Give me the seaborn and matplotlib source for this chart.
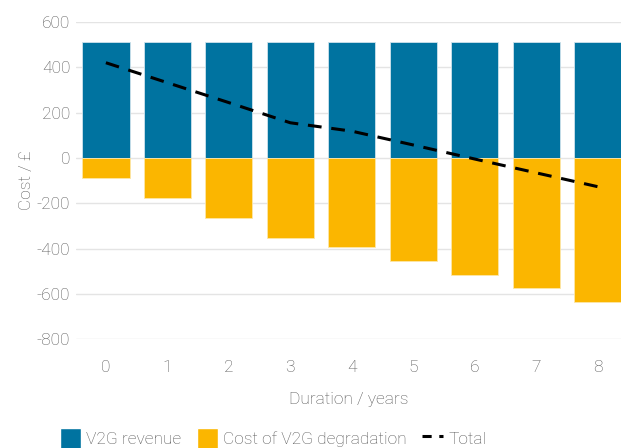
import matplotlib
matplotlib.use("Agg")
import matplotlib.pyplot as plt
import pandas as pd
import seaborn as sns
from matplotlib.patches import Patch
from matplotlib.lines import Line2D

# Data
years = [0, 1, 2, 3, 4, 5, 6, 7, 8]
revenue = [510, 510, 510, 510, 510, 510, 510, 510, 510]
degradation = [-90, -178, -266, -355, -392, -453, -515, -576, -637]
total = [420, 332, 244, 155, 118, 57, -5, -66, -127]

df = pd.DataFrame({"year": years, "revenue": revenue,
                   "degradation": degradation, "total": total})

blue = "#0073a0"
yellow = "#fbb600"
grey = "#555555"

sns.set_theme(style="white")
plt.rcParams["font.family"] = ["Roboto", "DejaVu Sans"]
plt.rcParams["font.weight"] = "light"
plt.rcParams["axes.labelweight"] = "light"
plt.rcParams["axes.unicode_minus"] = False

fig = plt.figure(figsize=(6.21, 4.48), dpi=100)
ax = fig.add_axes([0.122, 0.243, 0.878, 0.708])

sns.barplot(data=df, x="year", y="revenue", color=blue, width=0.77,
            saturation=1, edgecolor="#cfe3ec", linewidth=0.6, ax=ax, zorder=2)
sns.barplot(data=df, x="year", y="degradation", color=yellow, width=0.77,
            saturation=1, edgecolor="#fde6a8", linewidth=0.6, ax=ax, zorder=2)
sns.lineplot(data=df, x="year", y="total", color="black", linewidth=2.2,
             ax=ax, zorder=3)
ax.lines[-1].set_dashes((4.5, 3.2))

ax.set_ylim(-800, 600)
ax.set_xlim(-0.49, 8.38)
ax.set_yticks(range(-800, 601, 200))
ax.yaxis.grid(True, color="#e4e4e4", linewidth=1)
ax.set_axisbelow(True)
for s in ax.spines.values():
    s.set_visible(False)

ax.tick_params(axis="both", colors=grey, labelsize=12.5, length=0)
ax.tick_params(axis="x", pad=15)
ax.tick_params(axis="y", pad=4)
ax.set_xlabel("Duration / years", color=grey, fontsize=12.5, labelpad=12)
ax.set_ylabel("Cost / £", color=grey, fontsize=12.5, labelpad=2)

handles = [Patch(facecolor=blue, label="V2G revenue"),
           Patch(facecolor=yellow, label="Cost of V2G degradation"),
           Line2D([0], [0], color="black", linewidth=2.2, dashes=(3, 2.5),
                  label="Total")]
leg = fig.legend(handles=handles, loc="center", ncol=3, frameon=False,
                 bbox_to_anchor=(0.44, 0.022), fontsize=12.5,
                 handlelength=1.2, handleheight=1.5, handletextpad=0.3,
                 columnspacing=0.9)
for t in leg.get_texts():
    t.set_color(grey)

fig.savefig("out.png", dpi=100)
